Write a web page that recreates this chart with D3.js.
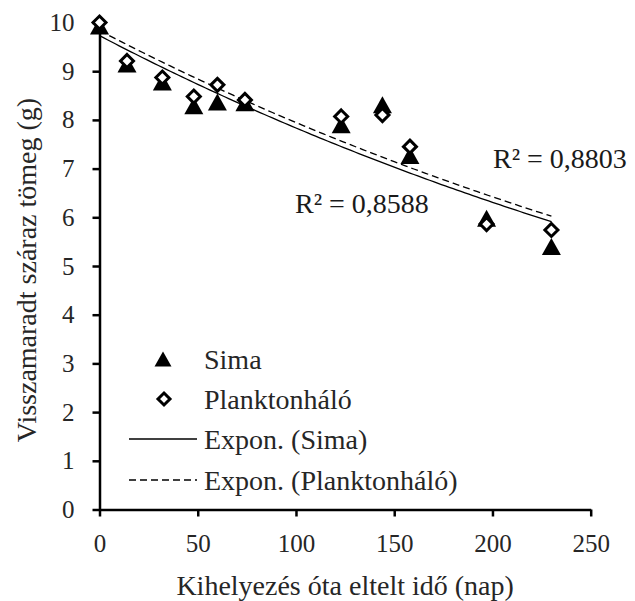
<!DOCTYPE html>
<html>
<head>
<meta charset="utf-8">
<script src="https://cdn.jsdelivr.net/npm/d3@7"></script>
</head>
<body style="margin:0; background:#fff">
<div id="chart"></div>
<script>
// days since placement, remaining dry mass (g)
var days = [0, 14, 32, 48, 60, 74, 123, 144, 158, 197, 230]
var simaMass = [9.93, 9.15, 8.78, 8.29, 8.37, 8.35, 7.9, 8.31, 7.27, 5.98, 5.4]
var planktonMass = [10, 9.21, 8.87, 8.48, 8.72, 8.41, 8.07, 8.1, 7.45, 5.86, 5.74]

var xTicks = [0, 50, 100, 150, 200, 250]
var yTicks = [0, 1, 2, 3, 4, 5, 6, 7, 8, 9, 10]
var legendLabels = ['Sima', 'Planktonháló', 'Expon. (Sima)', 'Expon. (Planktonháló)']
var r2Labels = ['R² = 0,8588', 'R² = 0,8803']

var width = 635
var height = 601
var serif = '"Liberation Serif", serif'

var svg = d3.select('#chart').append('svg')
  .attr('width', width)
  .attr('height', height)

var x = d3.scaleLinear().domain([0, 250]).range([99.5, 590.7])
var y = d3.scaleLinear().domain([0, 10]).range([509.5, 22.5])

// exponential trendline (least squares on ln y), like the spreadsheet does
function expFit (xs, ys) {
  var ly = ys.map(Math.log)
  var mx = d3.mean(xs)
  var my = d3.mean(ly)
  var sxy = d3.sum(xs, function (v, i) { return (v - mx) * (ly[i] - my) })
  var sxx = d3.sum(xs, function (v) { return (v - mx) * (v - mx) })
  var b = sxy / sxx
  return { a: Math.exp(my - b * mx), b: b }
}

var xAxis = d3.axisBottom(x).tickValues(xTicks).tickSizeInner(7).tickSizeOuter(0).tickPadding(10)
var yAxis = d3.axisLeft(y).tickValues(yTicks).tickSizeInner(7).tickSizeOuter(0).tickPadding(18)

var gx = svg.append('g')
  .attr('transform', 'translate(0,' + y(0) + ')')
  .call(xAxis)
gx.selectAll('text').attr('dy', null).attr('y', 42.5)

svg.append('g')
  .attr('transform', 'translate(' + x(0) + ',0)')
  .call(yAxis)

svg.selectAll('.domain, .tick line').attr('stroke', '#000').attr('stroke-width', 2.5)
svg.selectAll('.tick text')
  .style('font-family', serif)
  .style('font-size', '25px')
  .attr('fill', '#262626')

// axis titles
svg.append('text')
  .attr('x', (x(0) + x(250)) / 2)
  .attr('y', 595)
  .attr('text-anchor', 'middle')
  .style('font-family', serif)
  .style('font-size', '28px')
  .attr('fill', '#262626')
  .text('Kihelyezés óta eltelt idő (nap)')

svg.append('text')
  .attr('transform', 'translate(26,' + 270 + ') rotate(-90)')
  .attr('text-anchor', 'middle')
  .attr('dy', '0.35em')
  .style('font-family', serif)
  .style('font-size', '28px')
  .attr('fill', '#262626')
  .text('Visszamaradt száraz tömeg (g)')

// trendlines
var fits = [expFit(days, simaMass), expFit(days, planktonMass)]
var dashes = [null, '7,4']
var trendX = d3.range(0, d3.max(days) + 1, 2)

var line = d3.line()
  .x(function (d) { return x(d[0]) })
  .y(function (d) { return y(d[1]) })

fits.forEach(function (f, i) {
  svg.append('path')
    .datum(trendX.map(function (t) { return [t, f.a * Math.exp(f.b * t)] }))
    .attr('d', line)
    .attr('fill', 'none')
    .attr('stroke', '#000')
    .attr('stroke-width', 1.3)
    .attr('stroke-dasharray', dashes[i])
})

// markers
function triangle (w, h) {
  return 'M0,' + (-h / 2) + 'L' + (w / 2) + ',' + (h / 2) + 'L' + (-w / 2) + ',' + (h / 2) + 'Z'
}
function diamond (r) {
  return 'M0,' + (-r) + 'L' + r + ',0L0,' + r + 'L' + (-r) + ',0Z'
}

svg.append('g').selectAll('path')
  .data(days)
  .join('path')
  .attr('transform', function (d, i) { return 'translate(' + x(d) + ',' + y(simaMass[i]) + ')' })
  .attr('d', triangle(19, 17))
  .attr('fill', '#000')

svg.append('g').selectAll('path')
  .data(days)
  .join('path')
  .attr('transform', function (d, i) { return 'translate(' + x(d) + ',' + y(planktonMass[i]) + ')' })
  .attr('d', diamond(6.5))
  .attr('fill', '#fff')
  .attr('stroke', '#000')
  .attr('stroke-width', 3)

// R² labels
svg.append('text').attr('x', 295).attr('y', 213)
  .style('font-family', serif).style('font-size', '28px')
  .attr('fill', '#1a1a1a').text(r2Labels[0])
svg.append('text').attr('x', 493).attr('y', 168)
  .style('font-family', serif).style('font-size', '28px')
  .attr('fill', '#1a1a1a').text(r2Labels[1])

// legend
var legend = svg.append('g')
var rowY = [359, 399, 439, 480]
legendLabels.forEach(function (label, i) {
  var g = legend.append('g').attr('transform', 'translate(0,' + rowY[i] + ')')
  if (i === 0) {
    g.append('path').attr('transform', 'translate(163,0)').attr('d', triangle(17, 15)).attr('fill', '#000')
  } else if (i === 1) {
    g.append('path').attr('transform', 'translate(164,0)').attr('d', diamond(6)).attr('fill', '#fff')
      .attr('stroke', '#000').attr('stroke-width', 3)
  } else {
    g.append('line').attr('x1', 129).attr('x2', 197)
      .attr('stroke', '#000').attr('stroke-width', 1.3)
      .attr('stroke-dasharray', dashes[i - 2])
  }
  g.append('text')
    .attr('x', 204)
    .attr('dy', '0.35em')
    .style('font-family', serif)
    .style('font-size', '28px')
    .attr('fill', '#262626')
    .text(label)
})
</script>
</body>
</html>
